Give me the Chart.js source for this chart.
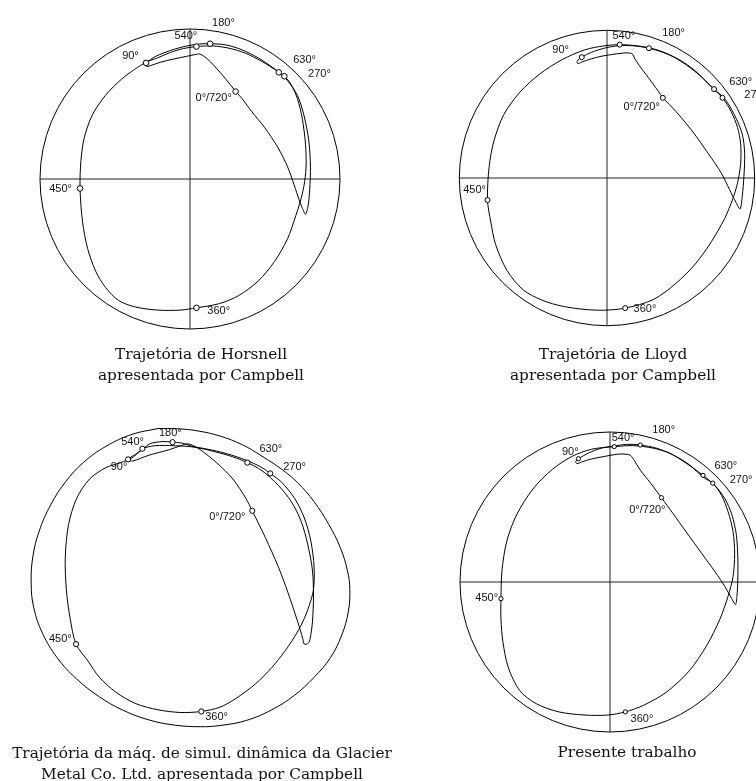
<!DOCTYPE html>
<html lang="pt">
<head>
    <meta charset="UTF-8">
    <title>Trajetórias do centro do mancal</title>
    <script src="https://cdn.jsdelivr.net/npm/chart.js"></script>
    <style>
        html, body {
            margin: 0;
            padding: 0;
            background: #fff;
            width: 756px;
            height: 781px;
            overflow: hidden;
        }
        body {
            position: relative;
        }
        canvas {
            position: absolute;
        }
        .titulo {
            position: absolute;
            transform: translateX(-50%);
            text-align: center;
            white-space: nowrap;
            font-family: "DejaVu Serif", serif;
            font-size: 15.3px;
            line-height: 21px;
            color: #111;
        }
    </style>
</head>
<body>
    <canvas id="horsnell"></canvas>
    <canvas id="lloyd"></canvas>
    <canvas id="glacier"></canvas>
    <canvas id="presente"></canvas>

    <div class="titulo" style="left:201px; top:343.5px;">Trajetória de Horsnell<br>apresentada por Campbell</div>
    <div class="titulo" style="left:613px; top:343.5px;">Trajetória de Lloyd<br>apresentada por Campbell</div>
    <div class="titulo" style="left:202px; top:742.5px;">Trajetória da máq. de simul. dinâmica da Glacier<br>Metal Co. Ltd. apresentada por Campbell</div>
    <div class="titulo" style="left:627px; top:742px;">Presente trabalho</div>

    <script>
        // Ângulos de manivela marcados em cada trajetória (mesma ordem das marcas)
        const angulos = ['0°/720°', '90°', '180°', '270°', '360°', '450°', '540°', '630°'];

        // Coordenadas normalizadas pela folga radial (círculo de folga = raio 1)

        // --- Horsnell ---
        const horsnellTrajetoria = [
            [0.304, 0.583], [0.239, 0.666], [0.163, 0.753], [0.108, 0.807], [0.065, 0.833],
            [0.033, 0.829], [-0.022, 0.818], [-0.108, 0.800], [-0.195, 0.779], [-0.260, 0.757],
            [-0.286, 0.750], [-0.300, 0.762], [-0.293, 0.774],
            [-0.228, 0.818], [-0.130, 0.857], [-0.022, 0.887], [0.065, 0.900], [0.134, 0.902],
            [0.239, 0.894], [0.347, 0.861], [0.456, 0.807], [0.553, 0.742], [0.629, 0.685],
            [0.672, 0.633], [0.716, 0.536], [0.748, 0.406], [0.770, 0.232], [0.774, 0.080],
            [0.759, -0.050], [0.733, -0.158], [0.705, -0.245], [0.651, -0.397], [0.564, -0.549],
            [0.456, -0.679], [0.325, -0.777], [0.195, -0.831], [0.043, -0.859],
            [-0.065, -0.874], [-0.217, -0.874], [-0.369, -0.852], [-0.477, -0.809], [-0.564, -0.722],
            [-0.629, -0.614], [-0.683, -0.462], [-0.716, -0.289], [-0.733, -0.063],
            [-0.727, 0.124], [-0.705, 0.275], [-0.651, 0.427], [-0.564, 0.557], [-0.456, 0.666],
            [-0.369, 0.731], [-0.290, 0.780], [-0.217, 0.807], [-0.130, 0.844], [-0.043, 0.870],
            [0.043, 0.883], [0.152, 0.887], [0.260, 0.872], [0.369, 0.839], [0.477, 0.785],
            [0.592, 0.711], [0.651, 0.655], [0.716, 0.557], [0.759, 0.427], [0.792, 0.254],
            [0.803, 0.080], [0.798, -0.072], [0.787, -0.180], [0.770, -0.234],
            [0.748, -0.191], [0.727, -0.137], [0.694, -0.039], [0.651, 0.080], [0.586, 0.210],
            [0.499, 0.341], [0.412, 0.449], [0.347, 0.536], [0.304, 0.583]
        ];
        const horsnellMarcas = [
            [0.304, 0.583], [-0.293, 0.774], [0.134, 0.902], [0.629, 0.685],
            [0.043, -0.859], [-0.733, -0.063], [0.043, 0.883], [0.592, 0.711]
        ];
        const horsnellRotulos = [
            [0.158, 0.542], [-0.397, 0.818], [0.223, 1.039], [0.863, 0.703],
            [0.191, -0.881], [-0.863, -0.069], [-0.028, 0.954], [0.764, 0.792]
        ];

        // --- Lloyd ---
        const lloydTrajetoria = [
            [0.378, 0.543], [0.312, 0.637], [0.246, 0.725], [0.191, 0.802], [0.176, 0.835],
            [0.158, 0.846], [0.114, 0.846], [0.026, 0.835], [-0.040, 0.824], [-0.105, 0.807],
            [-0.171, 0.785], [-0.198, 0.774], [-0.202, 0.791], [-0.171, 0.818],
            [-0.105, 0.851], [-0.018, 0.879], [0.070, 0.895], [0.180, 0.895], [0.284, 0.879],
            [0.378, 0.851], [0.488, 0.802], [0.598, 0.725], [0.708, 0.615], [0.782, 0.543],
            [0.840, 0.451], [0.884, 0.341], [0.905, 0.231], [0.905, 0.099], [0.884, -0.033],
            [0.851, -0.143], [0.796, -0.275], [0.708, -0.429], [0.598, -0.582], [0.466, -0.714],
            [0.312, -0.824], [0.123, -0.881],
            [-0.018, -0.895], [-0.149, -0.890], [-0.303, -0.868], [-0.435, -0.829], [-0.567, -0.758],
            [-0.677, -0.626], [-0.754, -0.451], [-0.787, -0.297], [-0.809, -0.149],
            [-0.798, 0.077], [-0.765, 0.253], [-0.699, 0.429], [-0.589, 0.582], [-0.457, 0.703],
            [-0.303, 0.802], [-0.149, 0.868], [-0.018, 0.895], [0.086, 0.903],
            [0.202, 0.895], [0.312, 0.875], [0.422, 0.835], [0.532, 0.769], [0.631, 0.692],
            [0.725, 0.602], [0.796, 0.538], [0.862, 0.429], [0.916, 0.297], [0.932, 0.165],
            [0.927, 0.011], [0.916, -0.121], [0.901, -0.209],
            [0.873, -0.165], [0.829, -0.077], [0.774, 0.033], [0.686, 0.165], [0.576, 0.319],
            [0.466, 0.451], [0.378, 0.543]
        ];
        const lloydMarcas = [
            [0.378, 0.543], [-0.171, 0.818], [0.284, 0.879], [0.782, 0.543],
            [0.123, -0.881], [-0.809, -0.149], [0.086, 0.903], [0.725, 0.602]
        ];
        const lloydRotulos = [
            [0.235, 0.479], [-0.314, 0.864], [0.451, 0.982], [1.007, 0.561],
            [0.257, -0.890], [-0.897, -0.081], [0.114, 0.963], [0.905, 0.653]
        ];

        // --- Glacier Metal Co. (máquina de simulação dinâmica) ---
        const glacierContorno = [
            [-0.217, 0.989], [-0.087, 0.987], [0.043, 0.974], [0.196, 0.939], [0.348, 0.880],
            [0.478, 0.804], [0.609, 0.717], [0.717, 0.626], [0.826, 0.500], [0.924, 0.348],
            [1.000, 0.196], [1.048, 0.043], [1.065, -0.087], [1.054, -0.239], [1.011, -0.391],
            [0.935, -0.543], [0.826, -0.674], [0.696, -0.793], [0.543, -0.891], [0.370, -0.963],
            [0.196, -0.996], [0.065, -1.004], [-0.109, -0.993], [-0.283, -0.957], [-0.457, -0.891],
            [-0.609, -0.804], [-0.761, -0.685], [-0.891, -0.543], [-0.989, -0.380], [-1.048, -0.207],
            [-1.065, -0.043], [-1.054, 0.130], [-1.011, 0.304], [-0.935, 0.478], [-0.837, 0.630],
            [-0.717, 0.761], [-0.565, 0.870], [-0.391, 0.950], [-0.217, 0.989]
        ];
        const glacierTrajetoria = [
            [0.413, 0.439], [0.370, 0.522], [0.283, 0.652], [0.174, 0.761], [0.065, 0.848],
            [0.011, 0.878], [-0.022, 0.887], [-0.054, 0.878], [-0.141, 0.848], [-0.283, 0.809],
            [-0.387, 0.772], [-0.417, 0.783],
            [-0.370, 0.815], [-0.320, 0.848], [-0.272, 0.887], [-0.185, 0.902], [-0.120, 0.898],
            [-0.054, 0.891], [0.011, 0.870], [0.109, 0.852], [0.239, 0.822], [0.370, 0.778],
            [0.478, 0.728], [0.533, 0.689],
            [0.609, 0.630], [0.696, 0.522], [0.761, 0.391], [0.804, 0.239], [0.826, 0.065],
            [0.822, -0.087], [0.793, -0.196], [0.750, -0.304], [0.696, -0.402], [0.630, -0.500],
            [0.543, -0.609], [0.435, -0.717], [0.304, -0.815], [0.196, -0.874], [0.072, -0.902],
            [-0.065, -0.909], [-0.217, -0.891], [-0.370, -0.848], [-0.500, -0.772], [-0.609, -0.674],
            [-0.685, -0.565], [-0.765, -0.452],
            [-0.804, -0.283], [-0.830, -0.087], [-0.837, 0.130], [-0.815, 0.348], [-0.761, 0.522],
            [-0.674, 0.652], [-0.565, 0.728], [-0.467, 0.761], [-0.391, 0.793], [-0.352, 0.826],
            [-0.322, 0.854],
            [-0.239, 0.874], [-0.109, 0.874], [0.022, 0.865], [0.152, 0.837], [0.283, 0.800],
            [0.380, 0.761],
            [0.478, 0.707], [0.587, 0.609], [0.674, 0.500], [0.739, 0.370], [0.783, 0.217],
            [0.815, 0.043], [0.822, -0.130], [0.815, -0.304], [0.800, -0.413], [0.787, -0.446],
            [0.761, -0.452],
            [0.750, -0.413], [0.717, -0.304], [0.652, -0.109], [0.587, 0.065], [0.500, 0.261],
            [0.413, 0.439]
        ];
        const glacierMarcas = [
            [0.413, 0.439], [-0.417, 0.783], [-0.120, 0.898], [0.533, 0.689],
            [0.072, -0.902], [-0.765, -0.452], [-0.322, 0.854], [0.380, 0.761]
        ];
        const glacierRotulos = [
            [0.246, 0.398], [-0.478, 0.735], [-0.135, 0.961], [0.696, 0.730],
            [0.174, -0.941], [-0.870, -0.420], [-0.387, 0.896], [0.537, 0.854]
        ];

        // --- Presente trabalho ---
        const presenteTrajetoria = [
            [0.343, 0.562], [0.267, 0.664], [0.202, 0.746], [0.158, 0.816], [0.137, 0.844],
            [0.104, 0.852], [0.050, 0.852], [-0.037, 0.837], [-0.124, 0.820], [-0.190, 0.800],
            [-0.221, 0.789], [-0.228, 0.805], [-0.210, 0.822],
            [-0.145, 0.859], [-0.059, 0.892], [0.028, 0.907], [0.114, 0.918], [0.202, 0.913],
            [0.310, 0.892], [0.419, 0.848], [0.527, 0.783], [0.625, 0.696], [0.685, 0.659],
            [0.744, 0.577], [0.787, 0.469], [0.820, 0.338], [0.831, 0.187], [0.820, 0.035],
            [0.787, -0.095], [0.733, -0.247], [0.646, -0.421], [0.527, -0.594], [0.375, -0.735],
            [0.223, -0.822], [0.102, -0.866],
            [-0.015, -0.887], [-0.167, -0.887], [-0.341, -0.866], [-0.492, -0.811], [-0.601, -0.725],
            [-0.677, -0.573], [-0.714, -0.399], [-0.727, -0.247], [-0.727, -0.111],
            [-0.720, 0.078], [-0.688, 0.273], [-0.623, 0.447], [-0.514, 0.620], [-0.384, 0.751],
            [-0.254, 0.837], [-0.124, 0.885], [0.028, 0.902],
            [0.158, 0.909], [0.289, 0.892], [0.397, 0.859], [0.505, 0.794], [0.620, 0.711],
            [0.701, 0.642], [0.766, 0.555], [0.813, 0.447], [0.842, 0.317], [0.852, 0.165],
            [0.852, 0.013], [0.846, -0.095], [0.837, -0.150],
            [0.809, -0.106], [0.766, -0.030], [0.701, 0.067], [0.614, 0.187], [0.505, 0.338],
            [0.419, 0.458], [0.343, 0.562]
        ];
        const presenteMarcas = [
            [0.343, 0.562], [-0.210, 0.822], [0.202, 0.913], [0.685, 0.659],
            [0.102, -0.866], [-0.727, -0.111], [0.028, 0.902], [0.620, 0.711]
        ];
        const presenteRotulos = [
            [0.249, 0.479], [-0.265, 0.870], [0.358, 1.011], [0.874, 0.679],
            [0.213, -0.913], [-0.822, -0.106], [0.087, 0.963], [0.772, 0.772]
        ];

        const K = 1.3; // meia largura da janela de cada painel, em unidades de folga

        // Desenha o círculo de folga, os eixos e os rótulos dos ângulos
        const moldura = {
            id: 'moldura',
            beforeDatasetsDraw(chart, args, o) {
                const ctx = chart.ctx;
                const x = chart.scales.x, y = chart.scales.y;
                const cx = x.getPixelForValue(0), cy = y.getPixelForValue(0);
                const r = x.getPixelForValue(1) - cx;
                ctx.save();
                ctx.lineWidth = 1;
                if (o.circulo) {
                    ctx.strokeStyle = '#000';
                    ctx.beginPath();
                    ctx.arc(cx, cy, r, 0, 2 * Math.PI);
                    ctx.stroke();
                }
                if (o.eixos) {
                    ctx.strokeStyle = '#222';
                    ctx.beginPath();
                    ctx.moveTo(x.getPixelForValue(-1), cy);
                    ctx.lineTo(x.getPixelForValue(1), cy);
                    ctx.moveTo(cx, y.getPixelForValue(1));
                    ctx.lineTo(cx, y.getPixelForValue(-1));
                    ctx.stroke();
                }
                ctx.restore();
            },
            afterDatasetsDraw(chart, args, o) {
                const ctx = chart.ctx;
                const x = chart.scales.x, y = chart.scales.y;
                ctx.save();
                ctx.font = '11px "Liberation Sans", Arial, sans-serif';
                ctx.fillStyle = '#111';
                ctx.textAlign = 'center';
                ctx.textBaseline = 'middle';
                o.rotulos.forEach((p, i) => {
                    ctx.fillText(angulos[i], x.getPixelForValue(p[0]), y.getPixelForValue(p[1]));
                });
                ctx.restore();
            }
        };

        function pontos(lista) {
            return lista.map(p => ({ x: p[0], y: p[1] }));
        }

        function criarPainel(id, cx, cy, r, trajetoria, marcas, rotulos, extra) {
            const canvas = document.getElementById(id);
            const lado = Math.round(2 * K * r);
            canvas.width = lado;
            canvas.height = lado;
            canvas.style.left = (cx - lado / 2) + 'px';
            canvas.style.top = (cy - lado / 2) + 'px';

            const datasets = [
                {
                    data: pontos(marcas),
                    showLine: false,
                    pointRadius: extra.raioMarca,
                    pointBackgroundColor: '#fff',
                    pointBorderColor: '#000',
                    pointBorderWidth: 1,
                    order: 0
                },
                {
                    data: pontos(trajetoria),
                    showLine: true,
                    borderColor: '#000',
                    borderWidth: 1,
                    pointRadius: 0,
                    tension: 0.3,
                    order: 1
                }
            ];
            if (extra.contorno) {
                datasets.push({
                    data: pontos(extra.contorno),
                    showLine: true,
                    borderColor: '#000',
                    borderWidth: 1,
                    pointRadius: 0,
                    tension: 0.4,
                    order: 2
                });
            }

            return new Chart(canvas, {
                type: 'scatter',
                data: { datasets: datasets },
                options: {
                    responsive: false,
                    animation: false,
                    events: [],
                    layout: { padding: 0 },
                    scales: {
                        x: { type: 'linear', min: -K, max: K, display: false },
                        y: { type: 'linear', min: -K, max: K, display: false }
                    },
                    plugins: {
                        legend: { display: false },
                        tooltip: { enabled: false },
                        moldura: {
                            circulo: extra.circulo,
                            eixos: extra.eixos,
                            rotulos: rotulos
                        }
                    }
                },
                plugins: [moldura]
            });
        }

        criarPainel('horsnell', 189.7, 179.1, 153.7, horsnellTrajetoria, horsnellMarcas, horsnellRotulos,
            { circulo: true, eixos: true, raioMarca: 2.8 });
        criarPainel('lloyd', 607.3, 178.3, 151.7, lloydTrajetoria, lloydMarcas, lloydRotulos,
            { circulo: true, eixos: true, raioMarca: 2.5 });
        criarPainel('glacier', 190, 576.7, 153.3, glacierTrajetoria, glacierMarcas, glacierRotulos,
            { circulo: false, eixos: false, raioMarca: 2.6, contorno: glacierContorno });
        criarPainel('presente', 610.3, 582, 153.7, presenteTrajetoria, presenteMarcas, presenteRotulos,
            { circulo: true, eixos: true, raioMarca: 2.1 });
    </script>
</body>
</html>
